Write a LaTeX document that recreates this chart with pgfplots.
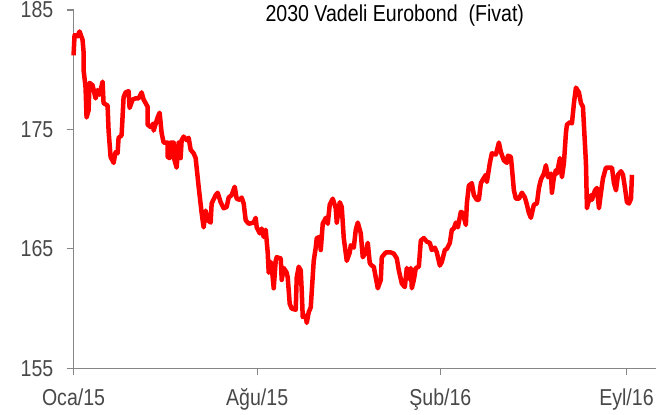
\documentclass[border=0pt]{standalone}
\usepackage{fontspec}
\setmainfont{Liberation Sans}[FakeStretch=0.85]
\usepackage{pgfplots}
\pgfplotsset{compat=1.18}
\definecolor{axgray}{RGB}{134,134,134}
\definecolor{txtgray}{RGB}{72,72,72}
\begin{document}
\begin{tikzpicture}
\useasboundingbox (-73.5pt,-46pt) rectangle (582pt,368pt);
\begin{axis}[
 scale only axis, width=582pt, height=358pt,
 xmin=0, xmax=582, ymin=155, ymax=185,
 axis x line*=bottom, axis y line*=left,
 axis line style={axgray, line width=1.5pt, -},
 xtick={0,183.5,366.5,552.5},
 xticklabels={Oca/15,Ağu/15,Şub/16,Eyl/16},
 ytick={155,165,175,185},
 tick style={axgray, line width=1.2pt},
 major tick length=7pt,
 tick align=outside,
 ticklabel style={font=\fontsize{23}{25}\selectfont, text=txtgray, inner sep=0pt},
 yticklabel style={xshift=-13pt},
 xticklabel style={yshift=-13pt},
 /pgf/number format/assume math mode=true,
 clip=false,
]
\addplot[red, line width=4.5pt, line join=round] coordinates {
(0,181.2)(1,182.9)(4,182.8)(6,183.2)(9,182.5)(10,181.5)(10,180.0)(12,178.5)(13,176.0)(15,176.6)(16,178.9)(19,178.7)(22,177.6)(24,178.3)(26,177.9)(29,179.0)(30,177.2)(34,177.0)(35,174.9)(37,172.7)(40,172.2)(42,173.1)(44,173.0)(45,174.3)(48,174.5)(50,177.7)(52,178.1)(55,178.2)(56,176.8)(59,177.5)(62,177.6)(65,177.6)(68,178.1)(70,177.5)(74,176.9)(74,175.4)(77,175.2)(80,175.5)(80,174.9)(84,176.0)(86,176.4)(88,174.7)(90,173.9)(94,173.9)(94,172.7)(96,172.6)
(97,173.9)(100,173.9)(100,172.7)(103,171.8)(105,173.9)(107,172.6)(108,174.1)(110,174.4)(113,174.1)(115,174.3)(117,173.3)(120,173.0)(122,172.6)(125,170.2)(128,168.0)(130,166.8)(132,168.2)(134,167.4)(137,167.2)(138,168.8)(142,169.5)(144,169.7)(147,168.9)(150,168.4)(153,168.5)(155,169.3)(158,169.5)(161,170.2)(163,169.2)(166,169.1)(168,169.3)(170,168.8)(172,167.4)(175,167.1)(180,167.2)(182,167.6)(183,166.8)(186,166.3)(188,166.7)(190,166.0)(192,166.6)
(194,164.7)(195,163.0)(197,163.9)(198,163.5)(200,161.7)(202,164.0)(203,164.3)(207,164.2)(208,162.4)(210,163.4)(213,163.0)(214,162.6)(216,160.4)(218,160.0)(222,159.9)(223,162.6)(225,163.5)(227,163.2)(228,161.5)(229,159.3)(232,159.4)(233,158.8)(235,159.7)(237,160.1)(240,164.0)(242,165.1)(243,165.9)(246,166.0)(247,164.9)(249,167.1)(252,167.6)(254,167.1)(256,168.7)(259,169.2)(262,168.4)(263,167.2)(266,168.9)(268,168.5)(270,165.9)(273,164.0)(276,164.7)(277,165.3)(280,165.1)(282,166.6)(284,167.2)(287,166.3)(289,164.3)
(292,164.7)(294,165.5)(296,163.8)(298,163.6)(300,163.5)(302,162.6)(304,161.7)(307,162.4)(308,164.3)(312,164.7)(317,164.7)(320,164.6)(323,164.2)(325,163.2)(328,162.1)(331,161.8)(333,163.4)(335,162.5)(337,163.4)(338,161.7)(340,162.4)(342,163.4)(345,163.5)(347,165.7)(350,165.9)(353,165.6)(356,165.5)(358,164.9)(361,165.1)(363,164.7)(366,163.6)(368,163.9)(371,164.9)(373,165.0)(376,165.5)(378,166.6)(380,166.7)(382,167.2)(384,166.8)
(387,168.1)(389,168.0)(392,167.0)(393,168.8)(395,170.3)(398,170.5)(400,169.5)(403,169.1)(405,169.1)(407,170.5)(409,170.8)(412,171.2)(413,170.6)(416,172.2)(418,173.0)(422,172.9)(425,173.9)(427,173.1)(430,172.4)(433,172.2)(434,172.8)(437,172.7)(438,171.8)(440,169.9)(442,169.2)(445,169.2)(448,169.7)(451,169.3)(453,168.7)(455,168.0)(457,167.6)(460,168.7)(463,168.8)(465,170.1)(467,170.8)(470,171.3)(472,172.0)(474,171.0)(477,171.3)(478,169.7)
(480,171.0)(482,171.6)(483,171.3)(486,172.6)(488,171.0)(490,172.2)(492,174.7)(493,175.4)(496,175.6)(498,175.5)(500,177.2)(502,178.5)(505,178.1)(507,177.2)(509,176.9)(512,172.2)(513,168.4)(514,168.8)(517,169.5)(518,169.1)(521,169.9)(523,170.1)(525,168.4)(527,169.7)(529,170.9)(532,171.8)(535,171.8)(538,171.8)(540,170.5)(542,169.9)(544,171.2)(547,171.5)(549,171.2)(551,170.1)(553,168.9)(555,168.8)(557,169.2)(558,171.2)
};
\node[font=\fontsize{23}{25}\selectfont, text=black] at (axis cs:321,184.5) {2030 Vadeli Eurobond\ \ (Fivat)};
\end{axis}
\end{tikzpicture}
\end{document}
